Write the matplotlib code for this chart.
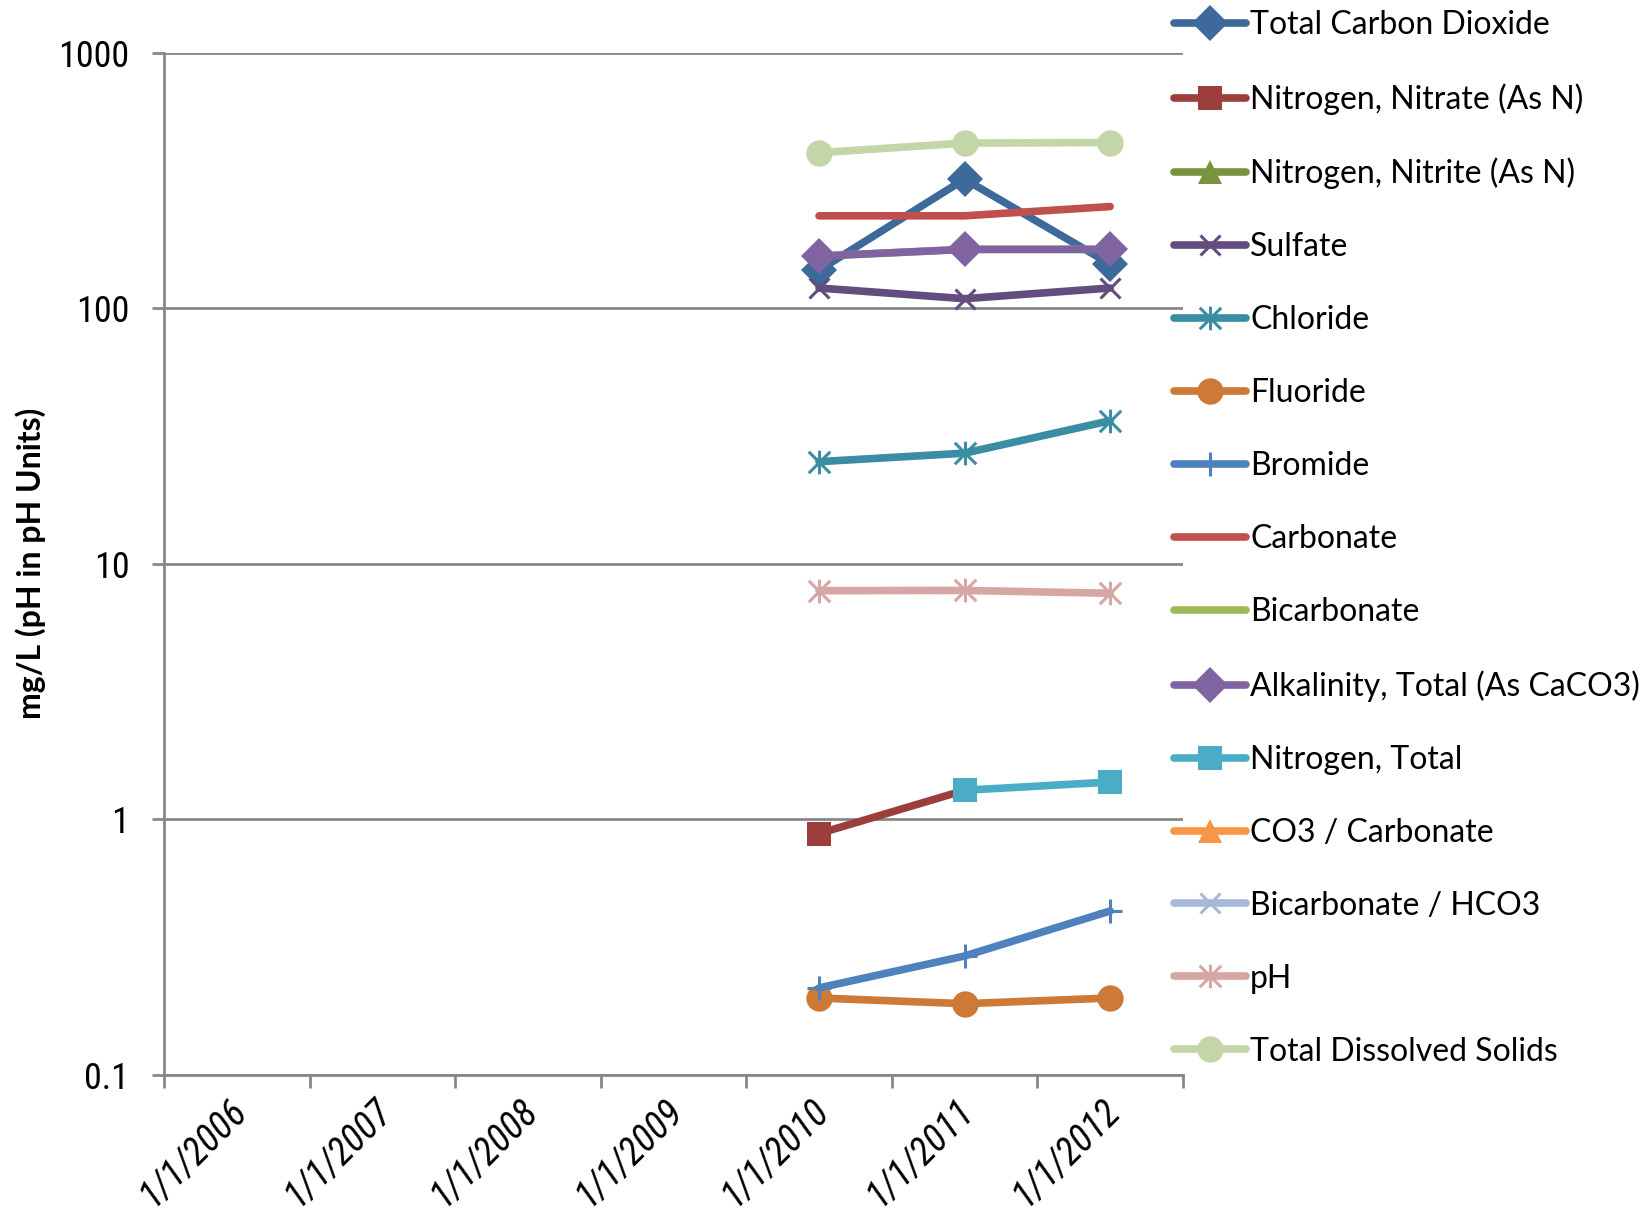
import numpy as np
import matplotlib
matplotlib.use("Agg")
import matplotlib.pyplot as plt
import matplotlib.transforms as mtransforms
from matplotlib.path import Path
from matplotlib.ticker import FixedLocator, NullFormatter, FixedFormatter

nan = np.nan
years = [2010, 2011, 2012]
year_labels = ['1/1/2006', '1/1/2007', '1/1/2008', '1/1/2009', '1/1/2010', '1/1/2011', '1/1/2012']
label_years = [2006, 2007, 2008, 2009, 2010, 2011, 2012]

total_co2 = [141, 320, 149]
nitrate = [0.88, 1.30, nan]
nitrite = [nan, nan, nan]
sulfate = [120, 109, 120]
chloride = [25.1, 27.1, 36.3]
fluoride = [0.20, 0.19, 0.20]
bromide = [0.219, 0.292, 0.438]
carbonate = [230, 230, 250]
bicarbonate = [160, 170, 170]
alkalinity = [160, 170, 170]
nitrogen_total = [nan, 1.30, 1.40]
co3 = [nan, nan, nan]
hco3 = [nan, nan, nan]
ph = [7.85, 7.87, 7.67]
tds = [406, 443, 445]

# Excel style star: an X with a vertical bar
star = Path([(-1, -1), (1, 1), (-1, 1), (1, -1), (0, -1.1), (0, 1.1)],
            [Path.MOVETO, Path.LINETO, Path.MOVETO, Path.LINETO, Path.MOVETO, Path.LINETO])

series = [
    ('Total Carbon Dioxide', total_co2, '#3D6A9B', 'D', 18),
    ('Nitrogen, Nitrate (As N)', nitrate, '#9C3F3C', 's', 17),
    ('Nitrogen, Nitrite (As N)', nitrite, '#78953D', '^', 17),
    ('Sulfate', sulfate, '#634C7E', 'x', 15),
    ('Chloride', chloride, '#3A8DA2', star, 17),
    ('Fluoride', fluoride, '#CC7A36', 'o', 19),
    ('Bromide', bromide, '#4F81BD', '+', 17),
    ('Carbonate', carbonate, '#C0504D', None, 0),
    ('Bicarbonate', bicarbonate, '#9BBB59', None, 0),
    ('Alkalinity, Total (As CaCO3)', alkalinity, '#8064A2', 'D', 18),
    ('Nitrogen, Total', nitrogen_total, '#4BACC6', 's', 17),
    ('CO3 / Carbonate', co3, '#F79646', '^', 17),
    ('Bicarbonate / HCO3', hco3, '#A7B9D9', 'x', 15),
    ('pH', ph, '#D7A5A3', star, 17),
    ('Total Dissolved Solids', tds, '#C4D5A8', 'o', 19),
]

plt.rcParams['font.family'] = ['Lato', 'DejaVu Sans']
fig = plt.figure(figsize=(16.48, 12.2), dpi=100)
ax = fig.add_axes([0.0995, 0.1189, 0.6183, 0.8379])

lines = []
for name, vals, col, mk, ms in series:
    open_mk = mk in ('x', '+') or isinstance(mk, Path)
    ln, = ax.plot(years, vals, color=col, lw=5.5, marker=mk, markersize=ms,
                  markerfacecolor='none' if open_mk else col,
                  markeredgecolor=col, markeredgewidth=2.2 if open_mk else 0,
                  solid_capstyle='round', solid_joinstyle='round', label=name)
    lines.append(ln)

ax.set_yscale('log')
ax.set_ylim(0.1, 1000)
ax.set_xlim(2005.5, 2012.5)
ax.yaxis.set_major_locator(FixedLocator([0.1, 1, 10, 100, 1000]))
ax.yaxis.set_major_formatter(FixedFormatter(['0.1', '1', '10', '100', '1000']))
ax.yaxis.set_minor_locator(FixedLocator([]))
ax.xaxis.set_major_locator(FixedLocator(np.arange(2005.5, 2013, 1.0)))
ax.xaxis.set_major_formatter(NullFormatter())
ax.xaxis.set_minor_locator(FixedLocator(label_years))
ax.xaxis.set_minor_formatter(FixedFormatter(year_labels))
ax.grid(axis='y', color='#878787', lw=2)
ax.set_axisbelow(True)
for s in ['top', 'right']:
    ax.spines[s].set_visible(False)
for s in ['left', 'bottom']:
    ax.spines[s].set_color('#878787')
    ax.spines[s].set_linewidth(2)
ax.tick_params(axis='both', which='major', direction='out', length=9, width=2, color='#878787')
ax.tick_params(axis='x', which='minor', length=0, pad=12)
ax.tick_params(axis='y', labelsize=26, pad=16)
for t in ax.yaxis.get_ticklabels():
    t.set_family(['Liberation Sans Narrow', 'Roboto Condensed', 'Lato'])
shift = mtransforms.ScaledTranslation(-9 / 100, 0, fig.dpi_scale_trans)
for t in ax.xaxis.get_minorticklabels():
    t.set_rotation(45)
    t.set_ha('right')
    t.set_va('top')
    t.set_rotation_mode('anchor')
    t.set_fontsize(27)
    t.set_style('italic')
    t.set_family(['Liberation Sans Narrow', 'Roboto Condensed', 'Lato'])
    t.set_transform(t.get_transform() + shift)

ax.set_ylabel('mg/L (pH in pH Units)', fontsize=23, fontweight='bold')
ax.yaxis.set_label_coords(-0.116, 0.5)

fig.legend(handles=lines, loc='upper left', bbox_to_anchor=(0.702, 1.006),
           frameon=False, fontsize=23, labelspacing=1.345, handlelength=2.25,
           handletextpad=0.12, borderaxespad=0.15)

fig.savefig('out.png', dpi=100)
